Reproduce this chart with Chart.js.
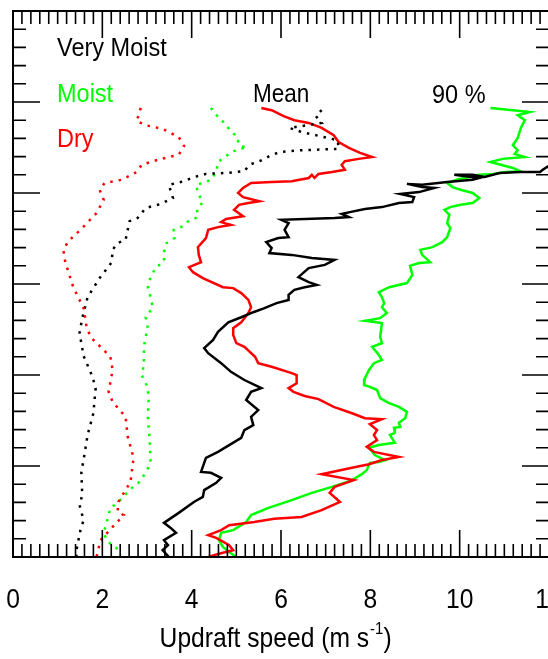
<!DOCTYPE html>
<html>
<head>
<meta charset="utf-8">
<script src="https://cdn.jsdelivr.net/npm/chart.js@4.4.1/dist/chart.umd.min.js"></script>
<style>
    html, body { margin: 0; padding: 0; background: #fff; overflow: hidden; }
    #wrap { width: 560px; height: 659px; }
</style>
</head>
<body>
<div id="wrap"><canvas id="updraftChart"></canvas></div>
<script>
// Updraft speed profiles: dotted = mean, solid = 90th percentile
const xTickLabels = [0, 2, 4, 6, 8, 10, 12];
const groupNames = ['Very Moist', 'Moist', 'Dry'];

// Very Moist, mean
const veryMoistMeanSpeed = [6.91, 6.78, 6.91, 6.19, 6.46, 6.87, 7.27, 7.29, 6.46, 5.97, 5.74, 5.52, 5.29, 5.18, 4.77, 4.32, 4.05, 3.83, 3.49, 3.58, 3.31, 2.97, 2.79, 2.61, 2.52, 2.34, 2.23, 2.21, 1.94, 1.67, 1.55, 1.49, 1.58, 1.78, 1.85, 1.80, 1.67, 1.58, 1.53, 1.55, 1.49, 1.58, 1.51, 1.42, 1.42];
const veryMoistMeanHeight = [9.82, 9.69, 9.54, 9.43, 9.34, 9.25, 9.16, 8.97, 8.94, 8.90, 8.81, 8.70, 8.62, 8.48, 8.44, 8.42, 8.35, 8.26, 8.18, 7.89, 7.76, 7.67, 7.45, 7.38, 6.97, 6.90, 6.75, 6.48, 6.13, 5.71, 5.25, 4.92, 4.42, 3.96, 3.71, 3.16, 2.68, 2.13, 1.87, 1.36, 1.14, 0.81, 0.59, 0.15, 0];

// Moist, mean
const moistMeanSpeed = [4.43, 4.59, 4.73, 4.86, 5.02, 5.06, 5.24, 5.04, 4.88, 4.73, 4.59, 4.55, 4.43, 4.25, 4.10, 4.14, 4.25, 4.12, 4.14, 3.92, 3.80, 3.60, 3.62, 3.44, 3.38, 3.38, 3.20, 3.08, 3.02, 3.08, 3.13, 2.97, 3.02, 2.95, 2.93, 2.93, 2.88, 2.99, 3.04, 3.02, 3.06, 3.08, 2.97, 2.81, 2.66, 2.50, 2.36, 2.18, 2.12, 2.03, 2.12, 2.30, 2.41];
const moistMeanHeight = [9.87, 9.67, 9.54, 9.38, 9.23, 9.05, 8.99, 8.97, 8.88, 8.79, 8.68, 8.46, 8.29, 8.22, 8.18, 8.00, 7.80, 7.63, 7.47, 7.38, 7.27, 7.19, 7.01, 6.90, 6.70, 6.48, 6.37, 6.15, 5.93, 5.71, 5.49, 5.27, 5.03, 4.77, 4.48, 4.22, 4.00, 3.78, 3.54, 3.05, 2.57, 2.07, 1.85, 1.63, 1.52, 1.36, 1.21, 1.08, 0.84, 0.53, 0.33, 0.22, 0.04];

// Dry, mean
const dryMeanSpeed = [2.86, 2.77, 2.97, 3.35, 3.71, 3.83, 3.71, 3.24, 2.88, 2.77, 2.43, 2.05, 1.94, 2.03, 1.87, 1.55, 1.22, 1.13, 1.17, 1.35, 1.58, 1.64, 1.73, 2.03, 2.18, 2.23, 2.14, 2.23, 2.52, 2.57, 2.70, 2.63, 2.36, 2.34, 2.48, 2.23, 1.96, 1.87];
const dryMeanHeight = [9.87, 9.58, 9.49, 9.41, 9.23, 9.03, 8.84, 8.73, 8.62, 8.46, 8.29, 8.22, 8.07, 7.85, 7.56, 7.23, 6.92, 6.73, 6.48, 5.93, 5.47, 5.10, 4.84, 4.55, 4.40, 4.11, 3.63, 3.41, 3.08, 2.64, 2.18, 1.65, 1.21, 0.99, 0.92, 0.66, 0.37, 0];

// Very Moist, 90 %
const veryMoist90Speed = [12.09, 11.86, 11.80, 11.35, 10.89, 10.56, 10.29, 9.88, 10.44, 10.29, 9.72, 9.16, 8.82, 9.16, 9.43, 9.09, 8.67, 8.98, 8.94, 8.64, 8.26, 7.88, 7.54, 7.36, 7.52, 7.20, 6.01, 6.17, 6.08, 6.17, 5.94, 5.67, 5.79, 5.74, 6.24, 6.69, 7.20, 6.98, 6.62, 6.39, 6.62, 6.80, 6.53, 6.30, 6.17, 6.17, 5.90, 5.63, 5.38, 5.11, 4.82, 4.59, 4.48, 4.28, 4.37, 4.66, 4.88, 5.18, 5.56, 5.33, 5.22, 5.49, 5.33, 5.38, 5.18, 5.11, 4.84, 4.59, 4.32, 4.21, 4.43, 4.66, 4.55, 4.28, 4.25, 4.05, 3.71, 3.38, 3.53, 3.65, 3.38, 3.47, 3.35, 3.49];
const veryMoist90Height = [8.66, 8.51, 8.46, 8.46, 8.44, 8.35, 8.40, 8.40, 8.33, 8.29, 8.24, 8.18, 8.20, 8.13, 8.11, 8.02, 7.98, 7.91, 7.80, 7.78, 7.69, 7.65, 7.58, 7.54, 7.47, 7.45, 7.41, 7.34, 7.19, 7.03, 7.01, 6.92, 6.79, 6.68, 6.64, 6.57, 6.53, 6.42, 6.35, 6.15, 6.04, 5.98, 5.93, 5.87, 5.76, 5.65, 5.58, 5.47, 5.38, 5.27, 5.16, 4.95, 4.77, 4.59, 4.48, 4.26, 4.07, 3.89, 3.71, 3.63, 3.45, 3.23, 3.08, 2.90, 2.79, 2.62, 2.46, 2.31, 2.18, 1.87, 1.85, 1.74, 1.63, 1.47, 1.32, 1.21, 0.97, 0.75, 0.64, 0.53, 0.37, 0.26, 0.15, 0];

// Moist, 90 %
const moist90Speed = [10.69, 11.19, 11.57, 11.30, 11.46, 11.37, 11.30, 11.19, 11.30, 11.23, 11.46, 10.96, 10.69, 11.19, 11.35, 11.03, 10.74, 10.44, 10.22, 9.99, 9.72, 9.84, 10.02, 10.29, 10.44, 10.29, 10.02, 9.79, 9.66, 9.77, 9.72, 9.79, 9.72, 9.61, 9.39, 9.12, 9.16, 9.34, 9.09, 8.89, 8.94, 8.82, 8.42, 8.19, 8.26, 8.31, 8.26, 8.37, 8.22, 7.88, 8.26, 8.22, 8.26, 8.04, 8.19, 8.26, 8.08, 7.97, 7.88, 7.86, 7.99, 8.15, 8.22, 8.42, 8.64, 8.82, 8.78, 8.64, 8.67, 8.53, 8.55, 8.44, 8.55, 8.19, 7.97, 8.10, 8.33, 8.19, 7.99, 7.92, 7.81, 7.59, 7.14, 6.69, 6.24, 5.72, 5.33, 5.22, 4.93, 4.66, 4.61, 4.70, 4.84, 5.00];
const moist90Height = [9.87, 9.82, 9.78, 9.71, 9.60, 9.43, 9.21, 9.05, 8.94, 8.86, 8.79, 8.75, 8.68, 8.55, 8.48, 8.46, 8.42, 8.40, 8.35, 8.31, 8.22, 8.13, 8.07, 8.00, 7.89, 7.78, 7.74, 7.69, 7.63, 7.52, 7.34, 7.23, 7.03, 6.92, 6.81, 6.75, 6.64, 6.48, 6.46, 6.40, 6.20, 6.02, 5.93, 5.82, 5.71, 5.58, 5.49, 5.36, 5.25, 5.19, 5.14, 4.84, 4.70, 4.62, 4.44, 4.33, 4.26, 4.11, 3.93, 3.78, 3.74, 3.67, 3.49, 3.38, 3.30, 3.19, 3.05, 2.95, 2.86, 2.84, 2.73, 2.68, 2.51, 2.46, 2.40, 2.24, 2.13, 2.09, 2.07, 1.91, 1.82, 1.69, 1.54, 1.41, 1.25, 1.08, 0.92, 0.77, 0.59, 0.53, 0.37, 0.22, 0.11, 0];

// Dry, 90 %
const dry90Speed = [5.56, 5.79, 6.06, 6.30, 6.62, 6.91, 7.18, 7.29, 7.52, 7.77, 8.04, 7.74, 7.43, 7.36, 7.43, 7.14, 6.84, 6.75, 6.69, 6.62, 6.24, 5.79, 5.33, 5.15, 5.04, 5.15, 5.52, 5.27, 5.06, 4.95, 5.15, 4.77, 4.66, 4.88, 4.59, 4.37, 4.32, 4.14, 4.16, 4.21, 3.94, 4.03, 4.25, 4.70, 4.93, 5.11, 5.27, 5.33, 5.27, 5.11, 4.93, 4.93, 5.00, 5.18, 5.42, 5.49, 5.79, 6.24, 6.35, 6.35, 6.17, 6.28, 6.53, 6.84, 7.18, 7.59, 7.88, 8.26, 7.99, 8.15, 8.08, 8.15, 7.92, 8.08, 8.64, 8.26, 7.97, 7.59, 6.91, 7.63, 7.20, 7.09, 7.32, 6.91, 6.46, 5.85, 5.40, 4.84, 4.66, 4.37, 4.55, 4.84, 4.93, 4.61, 4.37];
const dry90Height = [9.87, 9.82, 9.69, 9.60, 9.54, 9.43, 9.27, 9.12, 8.99, 8.88, 8.79, 8.75, 8.70, 8.62, 8.51, 8.46, 8.42, 8.33, 8.40, 8.33, 8.26, 8.24, 8.22, 8.11, 8.00, 7.91, 7.82, 7.78, 7.74, 7.63, 7.49, 7.43, 7.36, 7.30, 7.25, 7.19, 7.01, 6.81, 6.64, 6.48, 6.37, 6.26, 6.13, 5.93, 5.91, 5.80, 5.65, 5.49, 5.36, 5.16, 5.03, 4.88, 4.70, 4.62, 4.40, 4.26, 4.18, 4.04, 4.00, 3.82, 3.71, 3.63, 3.54, 3.47, 3.30, 3.16, 3.05, 3.03, 2.92, 2.79, 2.68, 2.57, 2.42, 2.31, 2.20, 2.13, 2.04, 1.96, 1.82, 1.69, 1.54, 1.41, 1.21, 1.03, 0.88, 0.84, 0.77, 0.70, 0.59, 0.48, 0.42, 0.26, 0.15, 0.07, 0];

function profile(speeds, heights) {
    return speeds.map(function (s, i) {
        return { x: s, y: heights[i] };
    });
}

function dotted(data, color) {
    return {
        data: data,
        showLine: true,
        borderColor: color,
        borderWidth: 2.5,
        borderDash: [2.5, 6],
        pointRadius: 0,
        tension: 0
    };
}

function solid(data, color) {
    return {
        data: data,
        showLine: true,
        borderColor: color,
        borderWidth: 2.5,
        pointRadius: 0,
        tension: 0
    };
}

function drawText(ctx, text, x, y, size, color, squeeze, align) {
    ctx.save();
    ctx.font = size + 'px "Liberation Sans", Arial, sans-serif';
    ctx.fillStyle = color;
    ctx.textAlign = align || 'left';
    ctx.textBaseline = 'alphabetic';
    ctx.translate(x, y);
    ctx.scale(squeeze, 1);
    ctx.fillText(text, 0, 0);
    ctx.restore();
}

// Frame with inward ticks, tick labels, axis title and the text legend
const framePlugin = {
    id: 'framePlugin',
    afterDatasetsDraw(chart) {
        const ctx = chart.ctx;
        const a = chart.chartArea;
        const xs = chart.scales.x;
        const ys = chart.scales.y;
        ctx.save();
        ctx.strokeStyle = '#000';
        ctx.lineWidth = 2;
        ctx.strokeRect(a.left, a.top, a.right - a.left, a.bottom - a.top);
        ctx.lineWidth = 1.6;
        ctx.beginPath();
        for (let i = 0; i <= 60; i++) {
            const px = xs.getPixelForValue(i * 0.2);
            const len = i % 10 === 0 ? 27 : 13;
            ctx.moveTo(px, a.bottom);
            ctx.lineTo(px, a.bottom - len);
            ctx.moveTo(px, a.top);
            ctx.lineTo(px, a.top + len);
        }
        for (let i = 0; i <= 30; i++) {
            const py = ys.getPixelForValue(i * 0.4);
            const len = i % 5 === 0 ? 27 : 13;
            ctx.moveTo(a.left, py);
            ctx.lineTo(a.left + len, py);
            ctx.moveTo(a.right, py);
            ctx.lineTo(a.right - len, py);
        }
        ctx.stroke();
        ctx.restore();

        xTickLabels.forEach(function (v) {
            drawText(ctx, String(v), xs.getPixelForValue(v), 608, 28, '#000', 0.88, 'center');
        });

        // axis title with superscript
        ctx.save();
        ctx.font = '28px "Liberation Sans", Arial, sans-serif';
        const w1 = ctx.measureText('Updraft speed (m s').width * 0.88;
        ctx.font = '17px "Liberation Sans", Arial, sans-serif';
        const w2 = ctx.measureText('-1').width * 0.88;
        ctx.restore();
        const tx = 275 - (w1 + w2 + 8) / 2;
        drawText(ctx, 'Updraft speed (m s', tx, 647, 28, '#000', 0.88);
        drawText(ctx, '-1', tx + w1 + 1, 634, 17, '#000', 0.88);
        drawText(ctx, ')', tx + w1 + w2 + 1, 647, 28, '#000', 0.88);

        const colors = ['#000000', '#00ff00', '#ff0000'];
        const baselines = [56, 102, 147];
        groupNames.forEach(function (name, i) {
            drawText(ctx, name, 57, baselines[i], 25, colors[i], 0.94);
        });
        drawText(ctx, 'Mean', 253, 102, 25, '#000', 0.9);
        drawText(ctx, '90 %', 432, 103, 25, '#000', 0.94);
    }
};

new Chart(document.getElementById('updraftChart').getContext('2d'), {
    type: 'scatter',
    data: {
        datasets: [
            dotted(profile(dryMeanSpeed, dryMeanHeight), '#ff0000'),
            dotted(profile(veryMoistMeanSpeed, veryMoistMeanHeight), '#000000'),
            dotted(profile(moistMeanSpeed, moistMeanHeight), '#00ff00'),
            solid(profile(veryMoist90Speed, veryMoist90Height), '#000000'),
            solid(profile(dry90Speed, dry90Height), '#ff0000'),
            solid(profile(moist90Speed, moist90Height), '#00ff00')
        ]
    },
    options: {
        responsive: true,
        maintainAspectRatio: false,
        animation: false,
        layout: {
            padding: { left: 13, right: 11, top: 11, bottom: 102 }
        },
        scales: {
            x: { type: 'linear', min: 0, max: 12, display: false },
            y: { type: 'linear', min: 0, max: 12, display: false }
        },
        plugins: {
            legend: { display: false },
            tooltip: { enabled: false }
        }
    },
    plugins: [framePlugin]
});
</script>
</body>
</html>
